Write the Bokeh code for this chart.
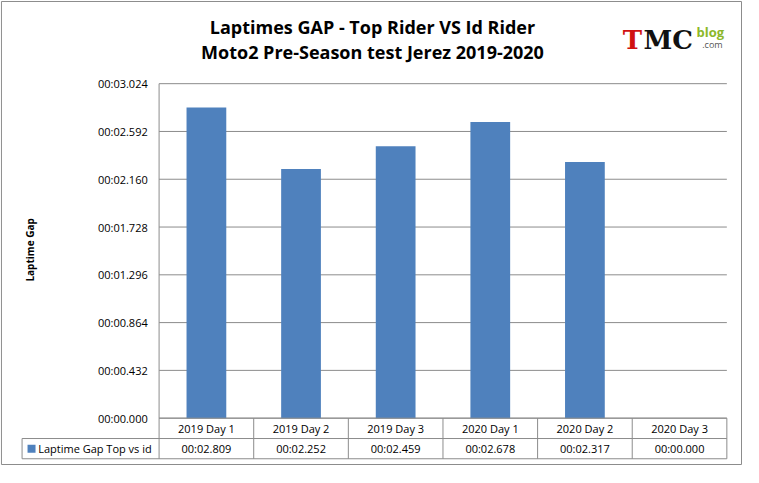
from bokeh.plotting import figure
from bokeh.models import Range1d
from bokeh.embed import file_html
from bokeh.resources import INLINE
from bokeh.core.properties import value

categories = ["2019 Day 1", "2019 Day 2", "2019 Day 3", "2020 Day 1", "2020 Day 2", "2020 Day 3"]
gaps = [2.809, 2.252, 2.459, 2.678, 2.317, 0.000]
gap_labels = ["00:02.809", "00:02.252", "00:02.459", "00:02.678", "00:02.317", "00:00.000"]
ticks = [0.0, 0.432, 0.864, 1.296, 1.728, 2.160, 2.592, 3.024]
tick_labels = ["00:00.000", "00:00.432", "00:00.864", "00:01.296", "00:01.728", "00:02.160", "00:02.592", "00:03.024"]
series_name = "Laptime Gap Top vs id"
title1 = "Laptimes GAP - Top Rider VS Id Rider"
title2 = "Moto2 Pre-Season test Jerez 2019-2020"

FONT = "Open Sans"
BLUE = "#4F81BD"
GRID = "#8C8C8C"
ymax = 3.024
r1 = -0.184
r2 = -0.367
xl = -1.448
n = len(categories)

p = figure(width=743, height=467, output_backend="svg", toolbar_location=None,
           x_range=Range1d(-1.676, 6.176), y_range=Range1d(-0.446, 3.776),
           min_border=0)
p.xaxis.visible = False
p.yaxis.visible = False
p.xgrid.visible = False
p.ygrid.visible = False
p.outline_line_color = None
p.border_fill_color = "white"

p.quad(left=[-1.666], right=[6.155], bottom=[-0.419], top=[3.767], fill_color=None, line_color="#8C8C8C")
p.segment(x0=[0]*len(ticks), x1=[n]*len(ticks), y0=ticks, y1=ticks, line_color=GRID, line_width=1)
p.segment(x0=[0], x1=[0], y0=[0], y1=[ymax], line_color=GRID)
xs = [i + 0.5 for i in range(n)]
p.vbar(x=xs, top=gaps, width=0.42, fill_color=BLUE, line_color=None)
p.text(x=[-0.12]*len(ticks), y=ticks, text=tick_labels, text_align="right", text_baseline="middle",
       text_font=value(FONT), text_font_size="11px", text_color="#000000")
p.segment(x0=[0, xl, xl], x1=[n, n, n], y0=[0, r1, r2], y1=[0, r1, r2], line_color=GRID)
vx = list(range(n + 1))
p.segment(x0=vx, x1=vx, y0=[0]*len(vx), y1=[r2]*len(vx), line_color=GRID)
p.segment(x0=[xl], x1=[xl], y0=[r1], y1=[r2], line_color=GRID)
p.text(x=xs, y=[r1 / 2]*n, text=categories, text_align="center", text_baseline="middle",
       text_font=value(FONT), text_font_size="11px", text_color="#000000")
p.text(x=xs, y=[(r1 + r2) / 2]*n, text=gap_labels, text_align="center", text_baseline="middle",
       text_font=value(FONT), text_font_size="11px", text_color="#000000")
p.scatter(x=[xl + 0.1], y=[(r1 + r2) / 2], marker="square", size=8, fill_color=BLUE, line_color=None)
p.text(x=[xl + 0.17], y=[(r1 + r2) / 2], text=[series_name], text_align="left", text_baseline="middle",
       text_font=value(FONT), text_font_size="11px", text_color="#000000")

p.text(x=[-1.365], y=[1.521], text=["Laptime Gap"], angle=1.5708, text_align="center", text_baseline="middle",
       text_font=value(FONT), text_font_size="10px", text_font_style="bold", text_color="#000000")

p.text(x=[2.255, 2.255], y=[3.540, 3.311], text=[title1, title2], text_align="center", text_baseline="middle",
       text_font=value(FONT), text_font_size="18px", text_font_style="bold", text_color="#000000")

p.text(x=[4.90], y=[3.42], text=["T"], text_baseline="middle", text_font=value("DejaVu Serif"),
       text_font_size="26px", text_font_style="bold", text_color="#D01010")
p.text(x=[5.12], y=[3.42], text=["MC"], text_baseline="middle", text_font=value("DejaVu Serif"),
       text_font_size="26px", text_font_style="bold", text_color="#111111")
p.text(x=[5.68], y=[3.49], text=["blog"], text_baseline="middle", text_font=value(FONT),
       text_font_size="13px", text_font_style="bold", text_color="#8CB82A")
p.text(x=[5.74], y=[3.38], text=[".com"], text_baseline="middle", text_font=value(FONT),
       text_font_size="9px", text_color="#555555")

open("out.html", "w").write(file_html(p, INLINE))
